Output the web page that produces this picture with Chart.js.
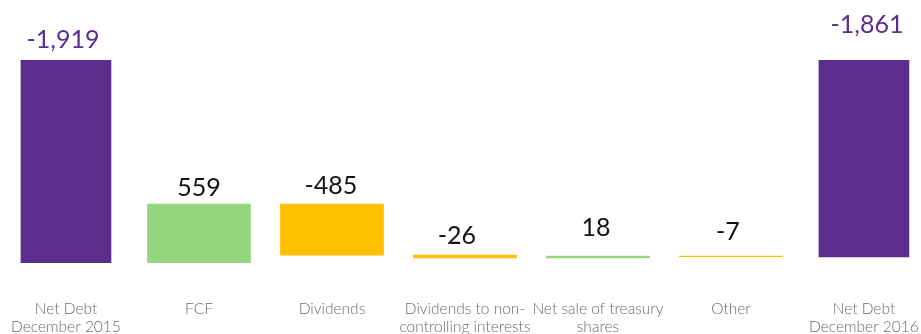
<!DOCTYPE html>
<html>
<head>
<meta charset="utf-8">
<script src="https://cdn.jsdelivr.net/npm/chart.js@4/dist/chart.umd.min.js"></script>
<style>
html,body{margin:0;padding:0;background:#fff;}
#wrap{width:921px;height:334px;position:relative;}
</style>
</head>
<body>
<div id="wrap"><canvas id="c" width="921" height="334"></canvas></div>
<script>
const categories = [["Net Debt","December 2015"],"FCF","Dividends",["Dividends to non-","controlling interests"],["Net sale of treasury","shares"],"Other",["Net Debt","December 2016"]];
const valueLabels = ["-1,919","559","-485","-26","18","-7","-1,861"];
const barStart = [0, 0, 74, 48, 48, 59, 58];
const barEnd = [1919, 559, 559, 74, 66, 66, 1919];
const barKind = ["total","increase","decrease","decrease","increase","decrease","total"];

const PURPLE = "#5B2D8D", GREEN = "#95D57E", YELLOW = "#FFC000";
const kindColor = {total: PURPLE, increase: GREEN, decrease: YELLOW};

const totalData = [], changeData = [], changeColors = [];
categories.forEach((c, i) => {
  if (barKind[i] === "total") totalData.push({x: i, y: [barStart[i], barEnd[i]]});
  else { changeData.push({x: i, y: [barStart[i], barEnd[i]]}); changeColors.push(kindColor[barKind[i]]); }
});

const gaps = [12, 8, 10, 11, 20, 16, 27];
const dxs = [-3, 0, -1, -8, -2, -3, 3];

const labelPlugin = {
  id: 'valueLabels',
  afterDatasetsDraw(chart) {
    const ctx = chart.ctx;
    ctx.save();
    ctx.textAlign = 'center';
    ctx.textBaseline = 'alphabetic';
    ctx.font = '25px Lato';
    chart.data.datasets.forEach((ds, di) => {
      const meta = chart.getDatasetMeta(di);
      meta.data.forEach((el, j) => {
        const idx = ds.data[j].x;
        const top = Math.min(el.y, el.base);
        ctx.fillStyle = barKind[idx] === 'total' ? PURPLE : '#111';
        ctx.fillText(valueLabels[idx], el.x + dxs[idx], top - gaps[idx]);
      });
    });
    ctx.restore();
  }
};

new Chart(document.getElementById('c'), {
  type: 'bar',
  data: {
    datasets: [
      {data: totalData, backgroundColor: PURPLE, barThickness: 90},
      {data: changeData, backgroundColor: changeColors, barThickness: 103}
    ]
  },
  options: {
    responsive: false,
    animation: false,
    grouped: false,
    layout: {padding: {top: 0, left: 0, right: 0, bottom: 0}},
    plugins: {legend: {display: false}, tooltip: {enabled: false}},
    scales: {
      x: {
        type: 'linear',
        offset: false,
        min: -0.496, max: 6.429,
        grid: {display: false, drawTicks: false},
        border: {display: false},
        afterFit: (scale) => { scale.height = 71; scale.paddingLeft = 0; scale.paddingRight = 0; },
        ticks: {
          stepSize: 1,
          includeBounds: false,
          autoSkip: false,
          maxRotation: 0,
          padding: 37,
          color: '#6b6b6b',
          font: {family: 'Lato', size: 15.5, weight: 300, lineHeight: 1.15},
          callback: (v) => Number.isInteger(v) && categories[v] !== undefined ? categories[v] : ''
        }
      },
      y: {
        display: false,
        min: 0, max: 2490
      }
    }
  },
  plugins: [labelPlugin]
});
</script>
</body>
</html>
